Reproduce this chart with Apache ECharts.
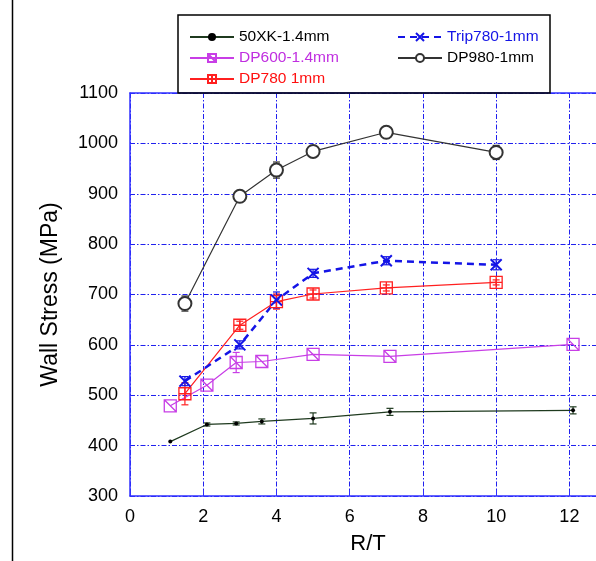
<!DOCTYPE html>
<html>
<head>
<meta charset="utf-8">
<script src="https://cdn.jsdelivr.net/npm/echarts@6/dist/echarts.min.js"></script>
<style>html,body{margin:0;padding:0;background:#fff;overflow:hidden;width:596px;height:561px;}#chart{width:620px;height:561px;}</style>
</head>
<body>
<div id="chart"></div>
<script>
// ---- data ----
var xk_x   = [1.1, 2.1, 2.9, 3.6, 5.0, 7.1, 12.1];
var xk_y   = [408, 442, 444, 448, 454, 467, 470];
var xk_err = [0, 3, 3, 5, 11, 7, 7];

var dp600_x   = [1.1, 2.1, 2.9, 3.6, 5.0, 7.1, 12.1];
var dp600_y   = [479, 520, 565, 567, 581, 577, 601];
var dp600_err = [0, 0, 20, 0, 0, 0, 0];

var dp780_x   = [1.5, 3.0, 4.0, 5.0, 7.0, 10.0];
var dp780_y   = [503, 639, 686, 701, 713, 724];
var dp780_err = [22, 8, 15, 8, 6, 5];

var trip_x   = [1.5, 3.0, 4.0, 5.0, 7.0, 10.0];
var trip_y   = [528, 600, 689, 742, 767, 759];
var trip_err = [9, 8, 16, 8, 8, 10];

var dp980_x   = [1.5, 3.0, 4.0, 5.0, 7.0, 10.0];
var dp980_y   = [682, 895, 947, 984, 1022, 982];
var dp980_err = [15, 8, 16, 6, 6, 14];

var names = ['50XK-1.4mm', 'DP600-1.4mm', 'DP780 1mm', 'Trip780-1mm', 'DP980-1mm'];
var colors = ['#1f3a1f', '#c83ee6', '#ff2020', '#1414e6', '#333333'];
var legendText = ['#000000', '#c02ee0', '#ff1010', '#1414e6', '#000000'];

function pairs(xs, ys) { return xs.map(function (x, i) { return [x, ys[i]]; }); }
function triples(xs, ys, es) { return xs.map(function (x, i) { return [x, ys[i], es[i]]; }); }

function errSeries(name, xs, ys, es, color) {
  return {
    type: 'custom', name: name, silent: true, z: 3,
    data: triples(xs, ys, es),
    renderItem: function (params, api) {
      var x = api.value(0), y = api.value(1), e = api.value(2);
      if (!e) return null;
      var t = api.coord([x, y + e]), b = api.coord([x, y - e]);
      var w = 3.5;
      var st = { stroke: color, lineWidth: 1.2 };
      return { type: 'group', children: [
        { type: 'line', shape: { x1: t[0], y1: t[1], x2: b[0], y2: b[1] }, style: st },
        { type: 'line', shape: { x1: t[0] - w, y1: t[1], x2: t[0] + w, y2: t[1] }, style: st },
        { type: 'line', shape: { x1: b[0] - w, y1: b[1], x2: b[0] + w, y2: b[1] }, style: st }
      ]};
    }
  };
}

var chart = echarts.init(document.getElementById('chart'));
var blue = '#2020ee';
var axisBlue = '#3030ff';
var font = 'Liberation Sans, Arial';
var legendCommon = {
  orient: 'vertical', top: 29, padding: 0, itemWidth: 44, itemHeight: 10, itemGap: 5,
  textStyle: { fontFamily: font, fontSize: 15.5, lineHeight: 14 }
};
var option = {
  backgroundColor: '#fff',
  animation: false,
  grid: { left: 130, top: 93, right: 14, bottom: 65, show: false },
  xAxis: [{
    type: 'value', min: 0, max: 13, interval: 2,
    name: 'R/T', nameLocation: 'middle', nameGap: 37,
    nameTextStyle: { fontFamily: font, fontSize: 22, color: '#000' },
    axisLine: { lineStyle: { color: axisBlue, width: 1.5 } },
    axisTick: { inside: true, length: 6, lineStyle: { color: axisBlue } },
    axisLabel: { fontFamily: font, fontSize: 18, color: '#000', margin: 12, showMaxLabel: false },
    splitLine: { show: true, lineStyle: { color: blue, width: 1, type: [5, 2, 1.5, 2] } }
  }, {
    type: 'value', min: 0, max: 13, interval: 2, position: 'top',
    axisLine: { show: true, lineStyle: { color: axisBlue, width: 1.5 } },
    axisTick: { show: false }, axisLabel: { show: false }, splitLine: { show: false }
  }],
  yAxis: {
    type: 'value', min: 300, max: 1100, interval: 100,
    name: 'Wall Stress (MPa)', nameLocation: 'middle', nameGap: 68, nameRotate: 90,
    nameTextStyle: { fontFamily: font, fontSize: 23, color: '#000' },
    axisLine: { show: true, lineStyle: { color: axisBlue, width: 1.5 } },
    axisTick: { show: false },
    axisLabel: { fontFamily: font, fontSize: 18, color: '#000', margin: 12, formatter: function (v) { return String(v); } },
    splitLine: { show: true, lineStyle: { color: blue, width: 1, type: [5, 2, 1.5, 2] } }
  },
  legend: [
    Object.assign({}, legendCommon, {
      left: 189,
      data: [
        { name: names[0], textStyle: { color: legendText[0] } },
        { name: names[1], textStyle: { color: legendText[1] } },
        { name: names[2], textStyle: { color: legendText[2] } }
      ]
    }),
    Object.assign({}, legendCommon, {
      left: 397,
      data: [
        { name: names[3], textStyle: { color: legendText[3] } },
        { name: names[4], textStyle: { color: legendText[4] } }
      ]
    })
  ],
  graphic: [
    { type: 'rect', shape: { x: 178, y: 15, width: 372, height: 78 }, style: { fill: 'none', stroke: '#000', lineWidth: 1.5 }, z: 100 },
    { type: 'line', shape: { x1: 12.5, y1: 0, x2: 12.5, y2: 561 }, style: { stroke: '#000', lineWidth: 1.5 }, z: 100 }
  ],
  series: [
    {
      name: names[0], type: 'line', data: pairs(xk_x, xk_y), z: 4,
      symbol: 'circle', symbolSize: 4,
      lineStyle: { color: colors[0], width: 1.2 },
      itemStyle: { color: '#000' }
    },
    errSeries('e0', xk_x, xk_y, xk_err, colors[0]),
    {
      name: names[1], type: 'line', data: pairs(dp600_x, dp600_y), z: 4,
      symbol: 'path://M0,0L10,0L10,10L0,10Z M0,0L10,10', symbolSize: 12,
      lineStyle: { color: colors[1], width: 1.2 },
      itemStyle: { color: 'none', borderColor: colors[1], borderWidth: 1.3 }
    },
    errSeries('e1', dp600_x, dp600_y, dp600_err, colors[1]),
    {
      name: names[2], type: 'line', data: pairs(dp780_x, dp780_y), z: 4,
      symbol: 'path://M0,0L10,0L10,10L0,10Z M5,0L5,10 M0,5L10,5', symbolSize: 12,
      lineStyle: { color: colors[2], width: 1.2 },
      itemStyle: { color: 'none', borderColor: colors[2], borderWidth: 1.3 }
    },
    errSeries('e2', dp780_x, dp780_y, dp780_err, colors[2]),
    {
      name: names[3], type: 'line', data: pairs(trip_x, trip_y), z: 4,
      symbol: 'path://M0,0L10,10M10,0L0,10', symbolSize: 11,
      lineStyle: { color: colors[3], width: 2.5, type: [7, 5] },
      itemStyle: { color: 'none', borderColor: colors[3], borderWidth: 2 }
    },
    errSeries('e3', trip_x, trip_y, trip_err, colors[3]),
    {
      name: names[4], type: 'line', data: pairs(dp980_x, dp980_y), z: 4,
      symbol: 'emptyCircle', symbolSize: 13,
      lineStyle: { color: colors[4], width: 1.2 },
      itemStyle: { color: colors[4], borderColor: colors[4], borderWidth: 1 }
    },
    errSeries('e4', dp980_x, dp980_y, dp980_err, colors[4])
  ]
};
chart.setOption(option);
</script>
</body>
</html>
